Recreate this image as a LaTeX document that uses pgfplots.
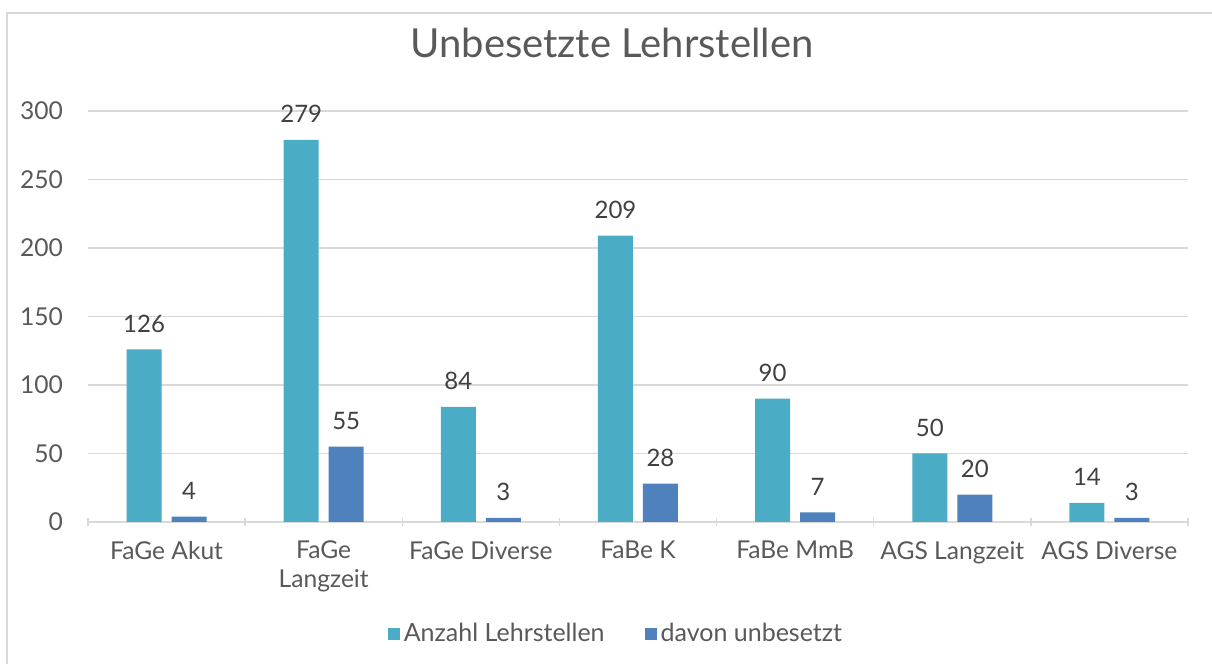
\documentclass[border=0pt]{standalone}
\usepackage{fontspec}
\setmainfont{Lato}
\usepackage{pgfplots}
\pgfplotsset{compat=1.18}
\definecolor{teal1}{HTML}{4BACC6}
\definecolor{blue1}{HTML}{4F81BD}
\definecolor{gridgray}{HTML}{D9D9D9}
\definecolor{txt}{HTML}{595959}

\begin{document}
\begin{tikzpicture}
\useasboundingbox (-44pt,-71pt) rectangle (562pt,261pt);
% outer chart frame (only left and top edges visible)
\draw[gridgray, line width=1pt] (-40.5pt,-71pt) -- (-40.5pt,254.5pt) -- (562pt,254.5pt);
\begin{axis}[
    at={(0,0)}, anchor=south west,
    scale only axis, width=550pt, height=205.5pt,
    ybar=5pt, bar width=17.5pt,
    xmin=-0.5, xmax=6.5,
    ymin=0, ymax=300,
    ytick={0,50,...,300},
    xtick={0,...,6},
    xticklabels={FaGe Akut, {FaGe\\Langzeit}, FaGe Diverse, FaBe K, FaBe MmB, AGS Langzeit, AGS Diverse},
    minor xtick={-0.5,0.5,...,6.5},
    major tick length=0pt,
    minor tick length=4pt,
    xtick align=outside,
    tick style={gridgray, line width=0.75pt},
    ymajorgrids, grid style={gridgray, line width=0.75pt},
    axis lines=left, axis line style={-},
    x axis line style={gridgray, line width=0.75pt},
    y axis line style={draw=none},
    tick label style={font=\fontsize{12.3}{14.5}\selectfont, text=txt},
    xticklabel style={align=center, yshift=-6pt},
    yticklabel style={xshift=-9pt},
    /pgf/number format/assume math mode=true,
    nodes near coords,
    every node near coord/.append style={font=\fontsize{12}{14}\selectfont, text=black!75, yshift=5pt},
    title={Unbesetzte Lehrstellen},
    title style={font=\fontsize{20}{24}\selectfont, text=txt, at={(262pt,233.5pt)}, anchor=center},
    legend style={at={(264.5pt,-56pt)}, anchor=center, draw=none, legend columns=2,
        font=\fontsize{12.5}{14}\selectfont, text=txt,
        /tikz/every even column/.append style={column sep=18pt}},
    legend image code/.code={\fill[#1] (0pt,-3pt) rectangle (6pt,3pt);},
]
\addplot[fill=teal1, draw=none] coordinates {
    (0,126) (1,279) (2,84) (3,209) (4,90) (5,50) (6,14)
};
\addplot[fill=blue1, draw=none] coordinates {
    (0,4) (1,55) (2,3) (3,28) (4,7) (5,20) (6,3)
};
\legend{Anzahl Lehrstellen, davon unbesetzt}
\end{axis}
\end{tikzpicture}
\end{document}
